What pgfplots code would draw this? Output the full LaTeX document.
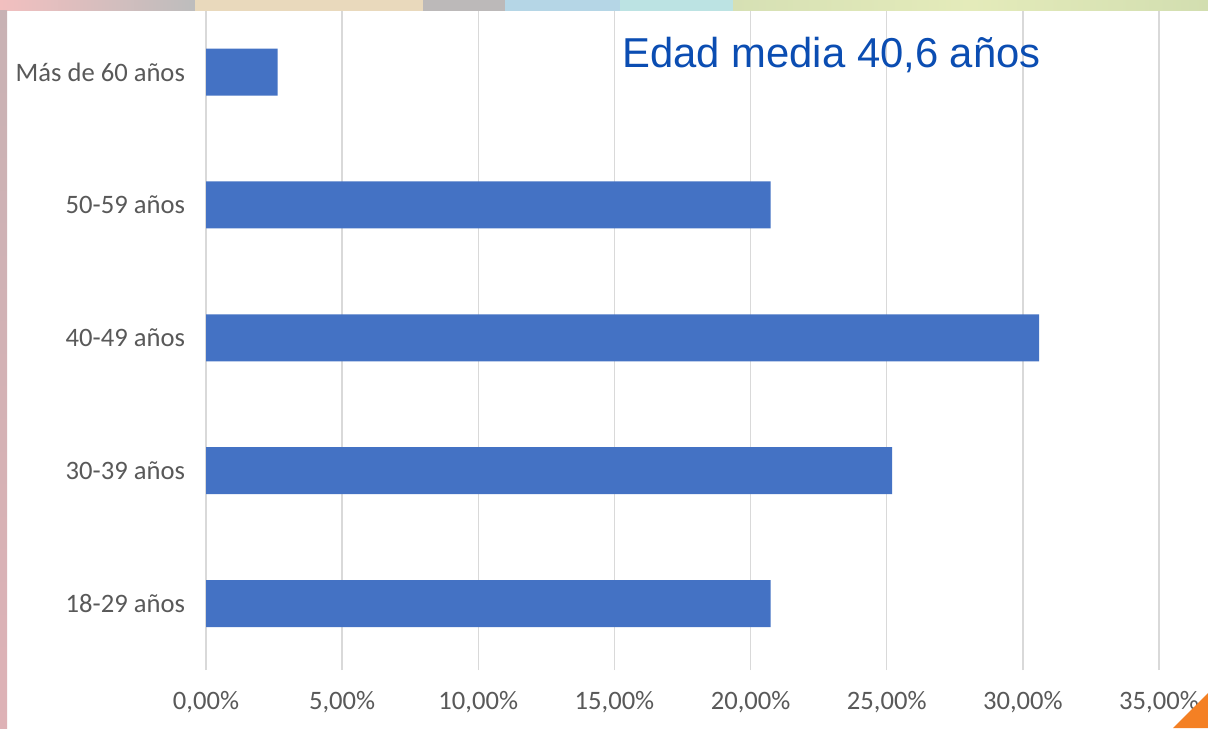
\documentclass[border=0pt]{standalone}
\usepackage{pgfplots}
\pgfplotsset{compat=1.18}
\usepackage{fontspec}
\setmainfont{Carlito}
\newfontfamily\titlefont{Liberation Sans}

\definecolor{barblue}{HTML}{4472C4}
\definecolor{titleblue}{HTML}{0B4DB2}
\definecolor{labgray}{HTML}{595959}
\definecolor{gridgray}{HTML}{D9D9D9}

\begin{document}
\begin{tikzpicture}
% page background
\fill[white] (0,0) rectangle (604pt,364pt);

\begin{axis}[
    at={(103pt,29pt)}, anchor=south west,
    scale only axis,
    width=476.5pt, height=332.2pt,
    xbar,
    bar width=23.5pt,
    xmin=0, xmax=35,
    ymin=-0.5, ymax=4.5,
    axis line style={draw=none},
    major tick length=0pt,
    xtick={0,5,...,35},
    xticklabels={{0,00\%},{5,00\%},{10,00\%},{15,00\%},{20,00\%},{25,00\%},{30,00\%},{35,00\%}},
    ytick={0,1,2,3,4},
    yticklabels={18-29 años,30-39 años,40-49 años,50-59 años,Más de 60 años},
    xmajorgrids,
    major grid style={gridgray, line width=0.75pt},
    ticklabel style={font=\fontsize{13.3}{16}\selectfont, text=labgray},
    xticklabel style={yshift=-7pt},
    yticklabel style={xshift=-7pt},
]
\addplot[fill=barblue, draw=none] coordinates {
    (20.74,0) (25.2,1) (30.6,2) (20.74,3) (2.63,4)
};
\end{axis}

% title
\node[anchor=base west, inner sep=0pt, text=titleblue,
      font=\titlefont\fontsize{20.9}{25}\selectfont] at (311pt,330pt) {Edad media 40,6 años};

% frame decorations of the slide
\fill[left color=black!20!red!25!white, right color=black!26] (0,358.5pt) rectangle (97.5pt,364pt);
\fill[color={rgb,255:red,233;green,217;blue,188}] (97.5pt,358.5pt) rectangle (211.5pt,364pt);
\fill[color={rgb,255:red,188;green,185;blue,185}] (211.5pt,358.5pt) rectangle (252.5pt,364pt);
\fill[color={rgb,255:red,181;green,214;blue,230}] (252.5pt,358.5pt) rectangle (310pt,364pt);
\fill[color={rgb,255:red,188;green,227;blue,227}] (310pt,358.5pt) rectangle (366.5pt,364pt);
\fill[left color={rgb,255:red,214;green,224;blue,180}, right color={rgb,255:red,210;green,222;blue,176},
      middle color={rgb,255:red,228;green,235;blue,186}] (366.5pt,358.5pt) rectangle (604pt,364pt);
\fill[top color={rgb,255:red,200;green,178;blue,180}, bottom color={rgb,255:red,222;green,178;blue,182}] (0,0) rectangle (3.5pt,358.5pt);
\fill[color={rgb,255:red,244;green,128;blue,36}] (586.5pt,0) -- (604pt,0) -- (604pt,17.5pt) -- cycle;
\end{tikzpicture}
\end{document}
